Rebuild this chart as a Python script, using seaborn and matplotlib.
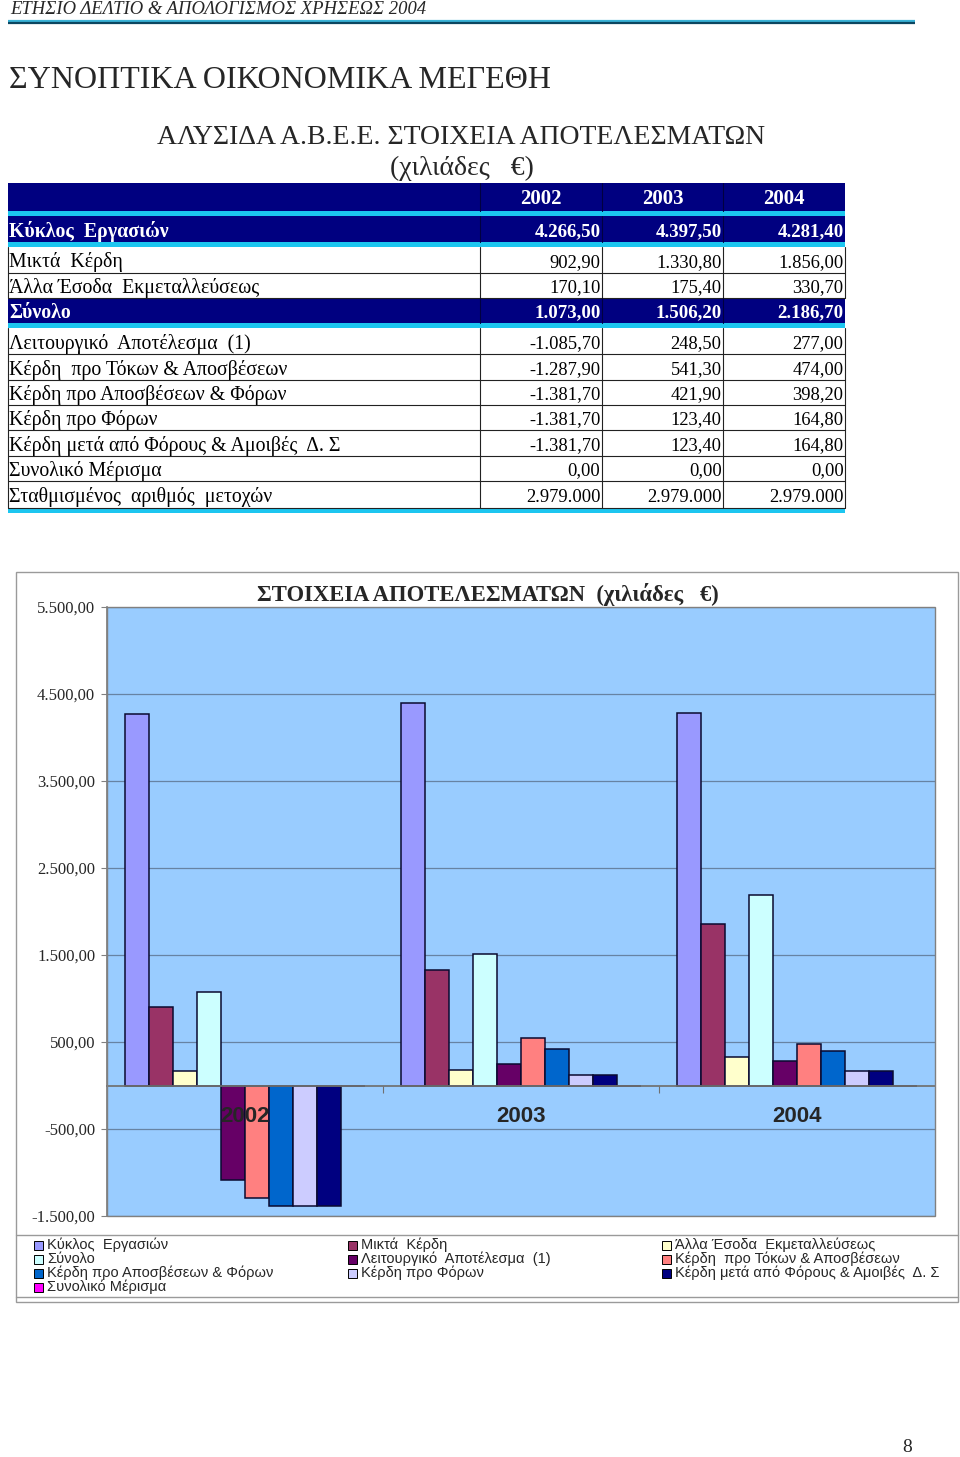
import matplotlib
matplotlib.use('Agg')
import matplotlib.pyplot as plt
import seaborn as sns
import pandas as pd
from matplotlib.patches import Rectangle
from matplotlib.ticker import FuncFormatter

# ---------------- data ----------------
years = ['2002', '2003', '2004']
series_names = [
    'Κύκλος  Εργασιών',
    'Μικτά  Κέρδη',
    'Άλλα Έσοδα  Εκμεταλλεύσεως',
    'Σύνολο',
    'Λειτουργικό  Αποτέλεσμα  (1)',
    'Κέρδη  προ Τόκων & Αποσβέσεων',
    'Κέρδη προ Αποσβέσεων & Φόρων',
    'Κέρδη προ Φόρων',
    'Κέρδη μετά από Φόρους & Αμοιβές  Δ. Σ',
    'Συνολικό Μέρισμα',
]
kyklos = [4266.50, 4397.50, 4281.40]
mikta = [902.90, 1330.80, 1856.00]
alla_esoda = [170.10, 175.40, 330.70]
synolo = [1073.00, 1506.20, 2186.70]
leitourgiko = [-1085.70, 248.50, 277.00]
pro_tokon = [-1287.90, 541.30, 474.00]
pro_aposv = [-1381.70, 421.90, 398.20]
pro_foron = [-1381.70, 123.40, 164.80]
meta_foron = [-1381.70, 123.40, 164.80]
merisma = [0.00, 0.00, 0.00]
metoxes_label = 'Σταθμισμένος  αριθμός  μετοχών'
metoxes = [2979000, 2979000, 2979000]
series_values = [kyklos, mikta, alla_esoda, synolo, leitourgiko, pro_tokon,
                 pro_aposv, pro_foron, meta_foron, merisma]
series_colors = ['#9999FF', '#993366', '#FFFFCC', '#CCFFFF', '#660066',
                 '#FF8080', '#0066CC', '#CCCCFF', '#000080', '#FF00FF']
yticks = [-1500, -500, 500, 1500, 2500, 3500, 4500, 5500]

header_text = 'ΕΤΗΣΙΟ ΔΕΛΤΙΟ & ΑΠΟΛΟΓΙΣΜΟΣ ΧΡΗΣΕΩΣ 2004'
page_title = 'ΣΥΝΟΠΤΙΚΑ ΟΙΚΟΝΟΜΙΚΑ ΜΕΓΕΘΗ'
table_title1 = 'ΑΛΥΣΙΔΑ Α.Β.Ε.Ε. ΣΤΟΙΧΕΙΑ ΑΠΟΤΕΛΕΣΜΑΤΩΝ'
table_title2 = '(χιλιάδες   €)'
chart_title = 'ΣΤΟΙΧΕΙΑ ΑΠΟΤΕΛΕΣΜΑΤΩΝ  (χιλιάδες   €)'
page_number = '8'


def gr(v, dec=2):
    s = f"{v:,.{dec}f}"
    return s.replace(',', 'X').replace('.', ',').replace('X', '.')


# ---------------- figure ----------------
sns.set_theme(style='white')
plt.rcParams['font.family'] = ['Liberation Serif', 'DejaVu Serif']
plt.rcParams['axes.axisbelow'] = False
W, H = 960, 1457
fig = plt.figure(figsize=(W / 100, H / 100), dpi=100)
fig.patch.set_facecolor('white')

page = fig.add_axes([0, 0, 1, 1])
page.set_xlim(0, W)
page.set_ylim(H, 0)
page.axis('off')
page.set_zorder(0)
page.patch.set_alpha(0)


def rect(x0, y0, x1, y1, **kw):
    page.add_patch(Rectangle((x0, y0), x1 - x0, y1 - y0, **kw))


# header
page.text(10, 9.5, header_text, fontsize=13.4, style='italic', ha='left', va='center')
page.plot([8, 915], [20.5, 20.5], color='#3ab2d6', lw=1.6, solid_capstyle='butt')
page.plot([8, 915], [22.8, 22.8], color='#0c4660', lw=1.6, solid_capstyle='butt')

page.text(9, 81, page_title, fontsize=23, ha='left', va='center')
page.text(461, 137, table_title1, fontsize=20, ha='center', va='center')
page.text(462, 168, table_title2, fontsize=20, ha='center', va='center')

# ---------------- table ----------------
navy = '#000080'
cyan = '#1CC6F0'
col_edges = [8, 480, 602, 723, 845]
FS_LAB = 14.3
FS_VAL = 13.3
DY = 2.5

# header row
rect(col_edges[0], 183, col_edges[-1], 211, fc=navy, ec='none')
rect(col_edges[0], 211, col_edges[-1], 216, fc=cyan, ec='none')
for x in col_edges[1:-1]:
    page.plot([x, x], [183, 211], color='#000040', lw=0.8)
for j, yr in enumerate(years):
    cx = (col_edges[j + 1] + col_edges[j + 2]) / 2
    page.text(cx, 198 + 1, yr, fontsize=15, color='white', fontweight='bold',
              ha='center', va='center')

table_rows = [(series_names[i], series_values[i]) for i in range(10)]
table_rows.append((metoxes_label, metoxes))
bold_rows = {0, 3}
row_geom = [(216, 242), (247, 273), (273, 298), (298, 323), (328, 354),
            (354, 380), (380, 405), (405, 430), (430, 456), (456, 481), (481, 508)]
cyan_after = {0: (242, 247), 3: (323, 328), 10: (508, 513)}

for i, (lab, vals) in enumerate(table_rows):
    y0, y1 = row_geom[i]
    yc = (y0 + y1) / 2 + DY
    bold = i in bold_rows
    if bold:
        rect(col_edges[0], y0, col_edges[-1], y1, fc=navy, ec='none')
        for x in col_edges[1:-1]:
            page.plot([x, x], [y0, y1], color='#000040', lw=0.8)
    else:
        for x in col_edges:
            page.plot([x, x], [y0, y1], color='#222222', lw=0.8)
        page.plot([col_edges[0], col_edges[-1]], [y1, y1], color='#222222', lw=0.8)
    if i in cyan_after:
        c0, c1 = cyan_after[i]
        rect(col_edges[0], c0, col_edges[-1], c1, fc=cyan, ec='none')
    color = 'white' if bold else 'black'
    weight = 'bold' if bold else 'normal'
    page.text(col_edges[0] + 1, yc, lab, fontsize=FS_LAB, color=color,
              fontweight=weight, ha='left', va='center')
    for j, v in enumerate(vals):
        txt = gr(v, 0) if i == 10 else gr(v, 2)
        page.text(col_edges[j + 2] - 1.5, yc, txt,
                  fontsize=(FS_VAL + 0.3 if bold else FS_VAL), color=color,
                  fontweight=weight, ha='right', va='center')

# ---------------- chart ----------------
rect(16, 572, 958, 1302, fc='white', ec='#9a9a9a', lw=1.0)
page.plot([16, 958], [1235, 1235], color='#9a9a9a', lw=1.0)
page.plot([16, 958], [1297, 1297], color='#9a9a9a', lw=1.0)

page.text(488, 594, chart_title, fontsize=16.3, fontweight='bold',
          ha='center', va='center')

ax_l, ax_r, ax_t, ax_b = 107, 935, 607, 1216
ax = fig.add_axes([ax_l / W, 1 - ax_b / H, (ax_r - ax_l) / W, (ax_b - ax_t) / H])
ax.set_zorder(2)
ax.set_facecolor('#99CCFF')

records = []
for name, vals in zip(series_names, series_values):
    for yr, v in zip(years, vals):
        records.append({'year': yr, 'series': name, 'value': v})
df = pd.DataFrame(records)

sns.barplot(data=df, x='year', y='value', hue='series', order=years,
            hue_order=series_names, palette=series_colors, saturation=1,
            width=0.87, gap=0, edgecolor='#0a0a30', linewidth=1.1,
            errorbar=None, legend=False, ax=ax)

ax.set_axisbelow(False)
ax.set_xlim(-0.5, 2.5)
ax.set_ylim(-1500, 5500)
ax.set_yticks(yticks)
ax.yaxis.set_major_formatter(FuncFormatter(lambda v, p: gr(v, 2)))
for t in yticks:
    ax.axhline(t, color='#6783a3', lw=0.9, zorder=0.5)
ax.set_xlabel('')
ax.set_ylabel('')

for s in ['top', 'right']:
    ax.spines[s].set_visible(False)
ax.spines['left'].set_color('#808080')
ax.spines['bottom'].set_color('#707070')
ax.spines['bottom'].set_position(('data', 0))
ax.add_patch(Rectangle((0, 0), 1, 1, transform=ax.transAxes, fill=False,
                       ec='#808080', lw=1.0, clip_on=False, zorder=3))

ax.tick_params(axis='y', length=4, width=0.8, color='#808080', pad=4.5,
               labelsize=12, left=True, direction='out')
for lbl in ax.get_yticklabels():
    lbl.set_fontfamily(['Liberation Serif', 'DejaVu Serif'])
ax.tick_params(axis='x', which='major', length=0, pad=14.5, labelsize=16)
ax.set_xticks([0.5, 1.5], minor=True)
ax.tick_params(axis='x', which='minor', length=5, width=0.8, color='#707070',
               direction='out', bottom=True)
for lbl in ax.get_xticklabels():
    lbl.set_fontfamily(['Liberation Sans', 'DejaVu Sans'])
    lbl.set_fontweight('bold')
    lbl.set_zorder(5)

# legend (row-major, three columns)
leg_x = [34, 348, 662]
for i, (name, colr) in enumerate(zip(series_names, series_colors)):
    col, row = i % 3, i // 3
    x0 = leg_x[col]
    y = 1245 + 14 * row
    rect(x0, y - 4.5, x0 + 9, y + 4.5, fc=colr, ec='black', lw=0.7)
    page.text(x0 + 13, y, name, fontsize=10.5, family=['Liberation Sans', 'DejaVu Sans'],
              ha='left', va='center')

page.text(907, 1448, page_number, fontsize=14, ha='center', va='center')

fig.savefig('out.png', dpi=100, facecolor='white')
